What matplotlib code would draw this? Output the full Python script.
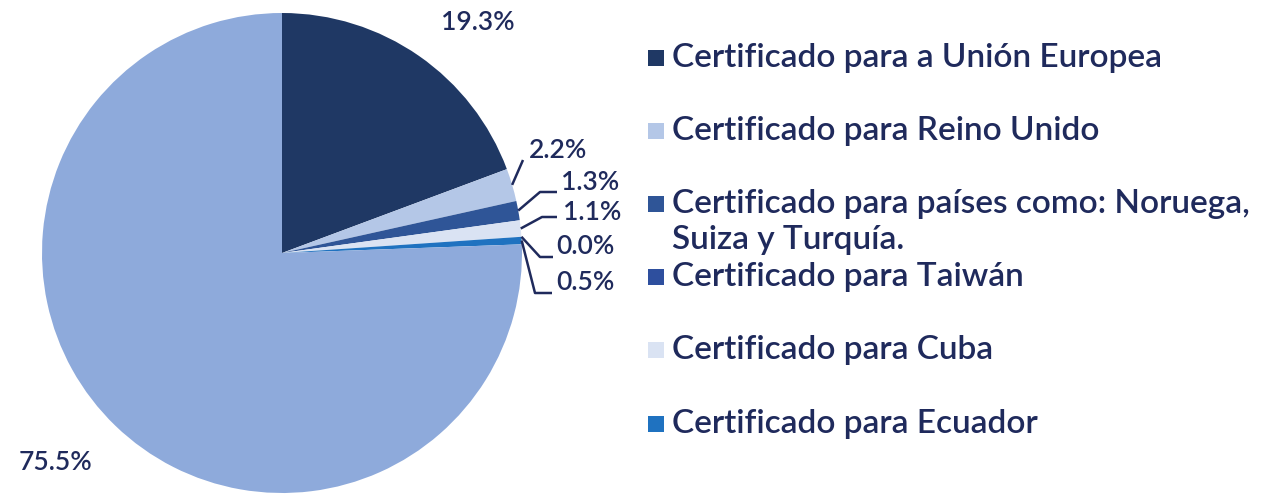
import numpy as np
import matplotlib
matplotlib.use("Agg")
import matplotlib.pyplot as plt
from matplotlib.patches import Rectangle

# legend categories and their swatch colours
categories = ["Certificado para a Unión Europea",
              "Certificado para Reino Unido",
              "Certificado para países como: Noruega,\nSuiza y Turquía.",
              "Certificado para Taiwán",
              "Certificado para Cuba",
              "Certificado para Ecuador"]
legend_colors = ["#1f3864", "#b4c7e7", "#2f5597", "#2e4f9e", "#dae3f3", "#1f72c0"]

# wedges as drawn, clockwise from 12 o'clock
slice_values = [19.3, 2.2, 1.3, 1.1, 0.0, 0.5, 75.5]
slice_labels = ["19.3%", "2.2%", "1.3%", "1.1%", "0.0%", "0.5%", "75.5%"]
slice_colors = ["#1f3864", "#b4c7e7", "#2f5597", "#dae3f3", "#2e4f9e", "#1f72c0", "#8eaadb"]

TEXT = "#1f2a5c"
W, H = 1268, 496

plt.rcParams['font.family'] = ['Lato', 'DejaVu Sans']

def Y(y):
    return H - y

fig = plt.figure(figsize=(W / 100, H / 100), dpi=100)
ax = fig.add_axes([0, 0, 1, 1])
ax.set_xlim(0, W)
ax.set_ylim(0, H)
ax.set_aspect('equal')
ax.axis('off')

cx, cy, r = 282, Y(253), 240
wedges, _ = ax.pie(slice_values, colors=slice_colors, startangle=90, counterclock=False,
                   center=(cx, cy), radius=r, wedgeprops=dict(linewidth=0))
ax.set_xlim(0, W)
ax.set_ylim(0, H)

lab_kw = dict(fontsize=19, color=TEXT, fontweight='semibold')

# big labels
ax.text(478, Y(22), slice_labels[0], ha='center', va='center', **lab_kw)
ax.text(55, Y(462), slice_labels[6], ha='center', va='center', **lab_kw)

# small labels with leader lines: (elbow, end, text position)
small = {
    1: (None, (523, 160), (529, 151)),
    2: ((540, 192), (557, 192), (561, 182)),
    3: ((542, 217), (557, 217), (563, 213)),
    4: ((540, 257), (553, 257), (556, 246)),
    5: ((535, 293), (552, 293), (556, 283)),
}
total = sum(slice_values)
cum = 0
for i, v in enumerate(slice_values):
    mid = cum + v / 2
    cum += v
    if i not in small:
        continue
    ang = np.deg2rad(90 - 360 * mid / total)
    sx, sy = cx + r * np.cos(ang), cy + r * np.sin(ang)
    elbow, end, tpos = small[i]
    xs, ys = [sx], [sy]
    if elbow is not None:
        xs.append(elbow[0]); ys.append(Y(elbow[1]))
    xs.append(end[0]); ys.append(Y(end[1]))
    ax.plot(xs, ys, color=TEXT, lw=1.8, solid_capstyle='butt')
    ax.text(tpos[0], Y(tpos[1]), slice_labels[i], ha='left', va='center', **lab_kw)

# legend
rows = [58, 131, 204, 277, 350, 424]
for name, col, y in zip(categories, legend_colors, rows):
    ax.add_patch(Rectangle((648, Y(y) - 8), 16, 16, color=col, lw=0))
    for k, line in enumerate(name.split("\n")):
        ax.text(672, Y(y + 36 * k), line, ha='left', va='center',
                fontsize=24, color=TEXT, fontweight='semibold')

fig.savefig("out.png", dpi=100)
